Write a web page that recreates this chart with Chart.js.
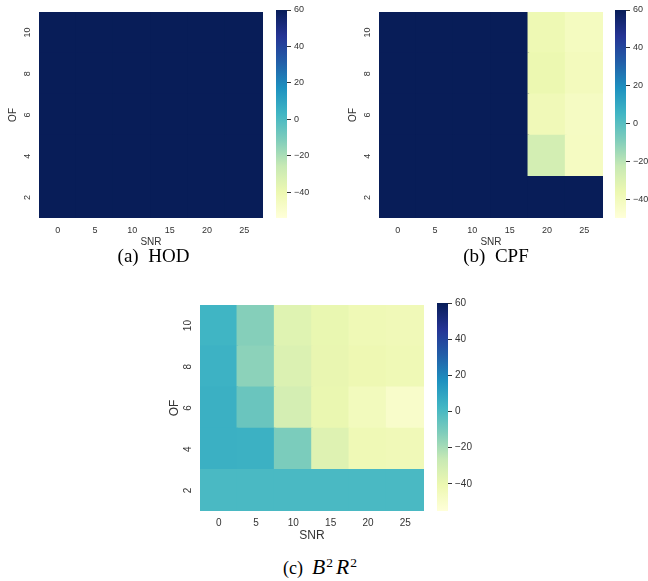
<!DOCTYPE html>
<html>
<head>
<meta charset="utf-8">
<script src="https://cdn.jsdelivr.net/npm/chart.js@4.4.1/dist/chart.umd.min.js"></script>
<style>
  html, body { margin: 0; padding: 0; background: #fff; }
  #page { position: relative; width: 648px; height: 581px; overflow: hidden; }
  #page canvas { position: absolute; }
  .cap { position: absolute; text-align: center; font-family: 'Liberation Serif', serif; color: #000; white-space: nowrap; }
  .cap .m { font-style: italic; font-size: 1.2em; }
  .cap sup { font-style: normal; font-size: 0.75em; vertical-align: 0.55em; line-height: 0; margin-left: 1px; }
</style>
</head>
<body>
<div id="page">
  <canvas id="hodMap" width="270" height="248" style="left:0;top:0"></canvas>
  <canvas id="hodBar" width="45" height="248" style="left:270px;top:0"></canvas>
  <canvas id="cpfMap" width="270" height="248" style="left:340px;top:0"></canvas>
  <canvas id="cpfBar" width="39" height="248" style="left:609px;top:0"></canvas>
  <canvas id="b2r2Map" width="270" height="250" style="left:161px;top:293px"></canvas>
  <canvas id="b2r2Bar" width="50" height="250" style="left:431px;top:293px"></canvas>
  <div class="cap" style="left:0;width:307px;top:246px;font-size:19px;line-height:19px">(a)&nbsp; HOD</div>
  <div class="cap" style="left:396px;width:200px;top:246px;font-size:19px;line-height:19px">(b)&nbsp; CPF</div>
  <div class="cap" style="left:220px;width:200px;top:558px;font-size:18px;line-height:18px">(c)&nbsp;&nbsp;<span class="m">B</span><sup>2</sup><span class="m" style="margin-left:3px">R</span><sup>2</sup></div>
</div>
<script>
const SNR = [0, 5, 10, 15, 20, 25];
const OF = [2, 4, 6, 8, 10];
const CBAR_TICKS = [-40, -20, 0, 20, 40, 60];

// one row per OF value (2..10), one column per SNR value
const HOD_ROWS = [
  [60, 60, 60, 60, 60, 60],
  [60, 60, 60, 60, 60, 60],
  [60, 60, 60, 60, 60, 60],
  [60, 60, 60, 60, 60, 60],
  [60, 60, 60, 60, 60, 60]
];
const CPF_ROWS = [
  [60, 60, 60, 60, 60, 60],
  [60, 60, 60, 60, -27, -42],
  [60, 60, 60, 60, -38.7, -42.4],
  [60, 60, 60, 60, -36, -40.5],
  [60, 60, 60, 60, -37.3, -41.4]
];
const B2R2_ROWS = [
  [0.5, 0.5, 0.5, 0.5, 0.5, 0.5],
  [5, 4.5, -11, -35, -42.6, -43],
  [5, -7, -31, -39.5, -45, -49.5],
  [4, -14.5, -34, -39, -41.2, -42.3],
  [3, -13, -35.5, -39.2, -42.6, -43.3]
];
const HOD_RANGE = [-54, 60];
const CPF_RANGE = [-50, 60];
const B2R2_RANGE = [-55, 60];

// matplotlib YlGnBu
const YLGNBU = ['#ffffd9', '#edf8b1', '#c7e9b4', '#7fcdbb', '#41b6c4', '#1d91c0', '#225ea8', '#253494', '#081d58'];
const TXT = '#333333';
const FONT = 'Liberation Sans';

function hexRgb(h) {
  return [parseInt(h.slice(1, 3), 16), parseInt(h.slice(3, 5), 16), parseInt(h.slice(5, 7), 16)];
}
function cmap(v, range) {
  let t = (v - range[0]) / (range[1] - range[0]);
  t = Math.max(0, Math.min(1, t));
  const p = t * (YLGNBU.length - 1);
  const i = Math.min(Math.floor(p), YLGNBU.length - 2);
  const f = p - i;
  const a = hexRgb(YLGNBU[i]), b = hexRgb(YLGNBU[i + 1]);
  const c = a.map((x, k) => Math.round(x + (b[k] - x) * f));
  return `rgb(${c[0]},${c[1]},${c[2]})`;
}
const minus = v => String(v).replace('-', '\u2212');

function heatmap(id, rows, range, sz) {
  new Chart(document.getElementById(id), {
    type: 'bar',
    data: {
      labels: SNR.map(String),
      datasets: OF.map((of, r) => ({
        data: SNR.map(() => [of - 1, of + 1]),
        backgroundColor: rows[r].map(v => cmap(v, range)),
        borderWidth: 0,
        inflateAmount: 0.8,
        barPercentage: 1,
        categoryPercentage: 1,
        grouped: false
      }))
    },
    options: {
      responsive: false,
      animation: false,
      layout: { padding: { top: 10, right: 7, left: 0, bottom: 0 } },
      plugins: { legend: { display: false }, tooltip: { enabled: false } },
      scales: {
        x: {
          grid: { display: false, drawTicks: false },
          border: { display: false },
          ticks: { color: TXT, font: { family: FONT, size: sz.tick }, padding: sz.xpad, maxRotation: 0 },
          title: { display: true, text: 'SNR', color: TXT, font: { family: FONT, size: sz.title }, padding: { top: 0, bottom: sz.tbot } },
          afterFit: s => { s.height = sz.xh; }
        },
        y: {
          min: 1, max: 11,
          afterBuildTicks: s => { s.ticks = OF.map(v => ({ value: v })); },
          grid: { display: false, drawTicks: false },
          border: { display: false },
          ticks: { color: TXT, font: { family: FONT, size: sz.tick }, padding: sz.ypad, minRotation: 90, maxRotation: 90, crossAlign: 'center' },
          title: { display: true, text: 'OF', color: TXT, font: { family: FONT, size: sz.title }, padding: { top: sz.ttop, bottom: 0 } },
          afterFit: s => { s.width = 39; }
        }
      }
    }
  });
}

function colorbar(id, range, sz) {
  new Chart(document.getElementById(id), {
    type: 'bar',
    data: {
      labels: [''],
      datasets: [{
        data: [range],
        barPercentage: 1,
        categoryPercentage: 1,
        borderWidth: 0,
        backgroundColor: ctx => {
          const chart = ctx.chart;
          if (!chart.chartArea) return YLGNBU[0];
          const y = chart.scales.y;
          const g = chart.ctx.createLinearGradient(0, y.getPixelForValue(range[0]), 0, y.getPixelForValue(range[1]));
          YLGNBU.forEach((c, i) => g.addColorStop(i / (YLGNBU.length - 1), c));
          return g;
        }
      }]
    },
    options: {
      responsive: false,
      animation: false,
      layout: { padding: { top: 10, left: 6, right: 0, bottom: sz.xh } },
      plugins: { legend: { display: false }, tooltip: { enabled: false } },
      scales: {
        x: { display: false },
        y: {
          position: 'right',
          min: range[0], max: range[1],
          afterBuildTicks: s => { s.ticks = CBAR_TICKS.map(v => ({ value: v })); },
          grid: { drawOnChartArea: false, drawTicks: true, tickLength: 4, color: TXT, lineWidth: 1 },
          border: { display: false },
          ticks: { color: TXT, font: { family: FONT, size: sz.tick }, padding: 3, callback: v => minus(v) },
          afterFit: s => { s.width = sz.cbw; }
        }
      }
    }
  });
}

const SMALL = { tick: 9, title: 10, xpad: 7, ypad: 6.5, tbot: 0, ttop: 7, xh: 30 };
const LARGE = { tick: 10, title: 12, xpad: 6, ypad: 6, tbot: 0, ttop: 6.8, xh: 32 };

heatmap('hodMap', HOD_ROWS, HOD_RANGE, SMALL);
colorbar('hodBar', HOD_RANGE, { tick: 9, xh: 30, cbw: 28 });
heatmap('cpfMap', CPF_ROWS, CPF_RANGE, SMALL);
colorbar('cpfBar', CPF_RANGE, { tick: 9, xh: 30, cbw: 22 });
heatmap('b2r2Map', B2R2_ROWS, B2R2_RANGE, LARGE);
colorbar('b2r2Bar', B2R2_RANGE, { tick: 10, xh: 32, cbw: 33 });
</script>
</body>
</html>
